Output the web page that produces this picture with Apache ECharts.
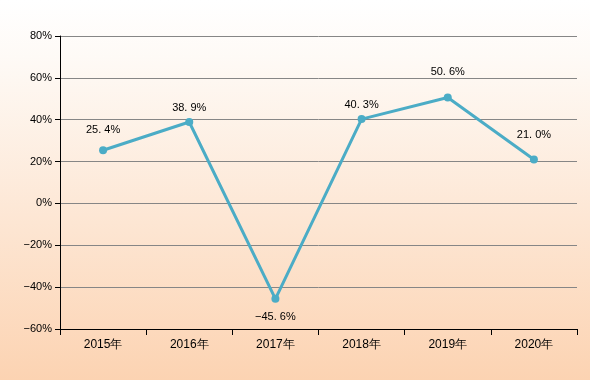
<!DOCTYPE html>
<html><head><meta charset="utf-8">
<script src="https://cdn.jsdelivr.net/npm/echarts@6/dist/echarts.min.js"></script>
<style>html,body{margin:0;padding:0;}#c{width:590px;height:380px;}</style>
</head><body><div id="c"></div>
<script>
const categories = ['2015年','2016年','2017年','2018年','2019年','2020年'];
const growth = [25.4, 38.9, -45.6, 40.3, 50.6, 21.0];
const yTicks = [-60, -40, -20, 0, 20, 40, 60, 80];

const FONT = 'Arial';
const minus = s => String(s).replace('-', '\u2212');
const chart = echarts.init(document.getElementById('c'));
const labelDist = [11, 5, 9, 5, 16, 15];
chart.setOption({
  backgroundColor: new echarts.graphic.LinearGradient(0, 0, 0, 1, [
    {offset: 0, color: '#ffffff'},
    {offset: 0.15, color: '#fefaf6'},
    {offset: 1, color: '#fcd3b2'}
  ]),
  animation: false,
  textStyle: {fontFamily: FONT},
  grid: {left: 60, right: 13, top: 36, bottom: 51},
  xAxis: {
    type: 'category', data: categories, boundaryGap: true,
    axisLine: {onZero: false, lineStyle: {color: '#000', width: 1}},
    axisTick: {show: true, length: 6, inside: false, lineStyle: {color: '#000'}},
    axisLabel: {color: '#000', fontSize: 12, margin: 10, fontFamily: FONT}
  },
  yAxis: {
    type: 'value', min: yTicks[0], max: yTicks[yTicks.length - 1], interval: 20,
    axisLine: {show: true, lineStyle: {color: '#000'}},
    axisTick: {show: true, length: 5, lineStyle: {color: '#000'}},
    axisLabel: {color: '#000', fontSize: 11, margin: 8, formatter: v => minus(v) + '%', fontFamily: FONT},
    splitLine: {lineStyle: {color: '#868686', width: 1}}
  },
  series: [{
    type: 'line', data: growth.map((v, i) => ({
      value: v,
      label: {position: v < 0 ? 'bottom' : 'top', distance: labelDist[i]}
    })),
    symbol: 'circle', symbolSize: 8,
    lineStyle: {color: '#4bacc6', width: 3},
    itemStyle: {color: '#4bacc6'},
    label: {show: true, color: '#000', fontSize: 11, fontFamily: FONT,
      formatter: p => minus(p.value.toFixed(1).replace('.', '. ')) + '%'}
  }]
});
</script></body></html>
